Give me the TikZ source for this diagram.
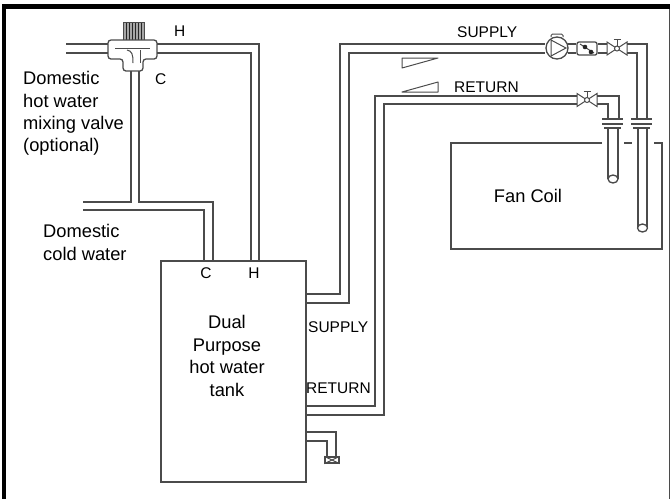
\documentclass[tikz,border=0pt]{standalone}
\usepackage{fontspec}
\setmainfont{Liberation Sans}
\definecolor{pipeGray}{RGB}{75, 75, 75}
\usetikzlibrary{shapes.geometric, positioning, patterns}

\begin{document}
\begin{tikzpicture}[x=1pt, y=-1pt,
  pipe/.style={draw=pipeGray, line width=1.3pt},
  thin pipe/.style={draw=pipeGray, line width=1pt},
  lbl/.style={font=\fontsize{15.5}{22}\selectfont, inner sep=0pt, align=left, black},
  biglbl/.style={font=\fontsize{18.3}{22.4}\selectfont, inner sep=0pt, align=left, black},
  box/.style={rectangle, draw=pipeGray, line width=1.3pt, inner sep=0pt},
  flange/.style={draw=pipeGray, line width=1.3pt},
  tail/.style={ellipse, draw=pipeGray, line width=1.3pt, fill=white, minimum width=10pt, minimum height=8pt, inner sep=0pt},
  valve/.pic={
    \draw[thin pipe, fill=white] (-10,-6.5) -- (0,0) -- (-10,6.5) -- cycle;
    \draw[thin pipe, fill=white] (10,-6.5) -- (0,0) -- (10,6.5) -- cycle;
    \draw[thin pipe] (0,0) -- (0,-9) (-3.5,-9) -- (3.5,-9);
    \draw[thin pipe, fill=white] (0,0) circle (2.5);
  },
]
  \useasboundingbox (0,0) rectangle (670,499);
  % frame, open at the bottom
  \fill[black] (2,4) rectangle (670,9);
  \fill[black] (2,4) rectangle (6,499);
  \draw[pipeGray, line width=1pt] (669,9) -- (669,499);

  % main parts
  \node[box, minimum width=145pt, minimum height=221pt] (tank) at (233.5,371.5) {};
  \node[biglbl, align=center] (tanktext) at (227,356) {Dual\\Purpose\\hot water\\tank};
  \node[lbl] (coldport) at (206,273) {C};
  \node[lbl] (hotport) at (254,273) {H};

  % mixing valve
  \node[rectangle, draw=pipeGray, thick, preaction={fill=gray!70}, pattern=vertical lines, pattern color=black!85,
        minimum width=21pt, minimum height=18pt, inner sep=0pt] (knob) at (133.5,31) {};
  \draw[pipe, rounded corners=3pt, fill=white] (108,40) -- (157,40) -- (157,59) -- (143,59) -- (143,71)
    -- (123,71) -- (123,59) -- (108,59) -- cycle;
  \draw[thin pipe] (115,48) -- (150,48);
  \draw[thin pipe] (127,50) .. controls (132,51) and (133,54) .. (133,63);
  \draw[thin pipe] (140,50) -- (140,63);

  % domestic water
  \draw[pipe] (66,44) -- (108,44) (66,53) -- (108,53);
  \draw[pipe] (157,44) -- (259,44) -- (tank.north -| 259,0);
  \draw[pipe] (157,53) -- (251,53) -- (tank.north -| 251,0);
  \draw[pipe] (131,71) -- (131,202) -- (83,202);
  \draw[pipe] (139,71) -- (139,202) -- (213,202) -- (tank.north -| 213,0);
  \draw[pipe] (83,210) -- (204,210) -- (tank.north -| 204,0);

  % supply line
  \node[circle, draw=pipeGray, line width=1.3pt, fill=white, minimum size=22pt, inner sep=0pt] (pump) at (557,48) {};
  \draw[thin pipe] (551,40) -- (566,48) -- (551,56) -- cycle;
  \draw[thin pipe, rounded corners=1.5pt] (551,37) -- (551,34) -- (563,34) -- (563,37);
  \node[box, rounded corners=2pt, fill=white, minimum width=20pt, minimum height=13pt] (strainer) at (587,48.5) {};
  \draw[thin pipe] (580,44) -- (594,53);
  \fill[black!85] (585,47) circle (2.3) (591,52) circle (2.3);
  \pic (supvalve) at (617,48.5) {valve};
  \draw[pipe] (tank.east |- 0,294) -- (340,294) -- (340,44) -- (pump.west |- 0,44);
  \draw[pipe] (tank.east |- 0,303) -- (349,303) -- (349,53) -- (pump.west |- 0,53);
  \draw[pipe] (568,44) -- (strainer.west |- 0,44) (568,53) -- (strainer.west |- 0,53);
  \draw[pipe] (strainer.east |- 0,44) -- (607,44) (strainer.east |- 0,53) -- (607,53);
  \draw[pipe] (627,44) -- (647,44) -- (647,119);
  \draw[pipe] (627,53) -- (637,53) -- (637,119);

  % return line
  \pic (retvalve) at (587,100) {valve};
  \draw[pipe] (tank.east |- 0,406) -- (375,406) -- (375,96) -- (577,96);
  \draw[pipe] (tank.east |- 0,415) -- (384,415) -- (384,104) -- (577,104);
  \draw[pipe] (597,96) -- (619,96) -- (619,119);
  \draw[pipe] (597,104) -- (608,104) -- (608,119);

  % fan coil, cut where the pipes pass
  \draw[pipe] (602,143) -- (451,143) -- (451,249) -- (662,249) -- (662,143) -- (654,143);
  \draw[pipe] (624,143) -- (632,143);
  \node[biglbl] (fancoil) at (528,196) {Fan Coil};

  % flanges and tails
  \draw[flange] (602,119) -- (623,119) (602,124) -- (623,124) (604,128) -- (621,128);
  \draw[flange] (631,119) -- (652,119) (631,124) -- (652,124) (633,128) -- (650,128);
  \draw[pipe] (608,128) -- (608,179) (618,128) -- (618,179);
  \draw[pipe] (638,128) -- (638,228) (647,128) -- (647,228);
  \node[tail] (tailret) at (613,179) {};
  \node[tail] (tailsup) at (642.5,228) {};

  % drain
  \node[box, fill=white, minimum width=14pt, minimum height=6pt] (drain) at (332,460) {};
  \draw[thin pipe] (drain.north west) -- (drain.south east) (drain.south west) -- (drain.north east);
  \draw[pipe] (tank.east |- 0,432) -- (336,432) -- (drain.north -| 336,0);
  \draw[pipe] (tank.east |- 0,441) -- (327,441) -- (drain.north -| 327,0);

  % wedges
  \draw[thin pipe, line join=round] (402,58) -- (438,58) -- (402,68) -- cycle;
  \draw[thin pipe, line join=round] (402,92) -- (438,82) -- (438,92) -- cycle;

  % labels
  \node[lbl, anchor=west] (hotlabel) at (174,31) {H};
  \node[lbl, anchor=west] (coldlabel) at (155,79) {C};
  \node[biglbl, anchor=west] (mixlabel) at (23,113.5) {Domestic\\hot water\\mixing valve\\(optional)};
  \node[biglbl, anchor=west] (coldwater) at (43,242.5) {Domestic\\cold water};
  \node[lbl, anchor=west] (suptop) at (457,32) {SUPPLY};
  \node[lbl, anchor=west] (rettop) at (454,87) {RETURN};
  \node[lbl, anchor=west] (suptank) at (308,327) {SUPPLY};
  \node[lbl, anchor=west] (rettank) at (306,388) {RETURN};
\end{tikzpicture}
\end{document}
